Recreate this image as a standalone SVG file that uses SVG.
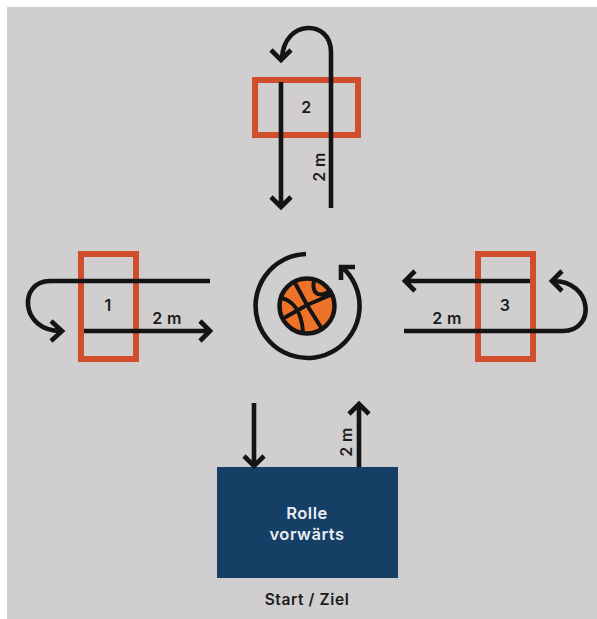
<svg xmlns="http://www.w3.org/2000/svg" width="597" height="619" viewBox="0 0 597 619">
<style>
.box{fill:none;stroke:#d14e2c;stroke-width:6}
.ln{fill:none;stroke:#141414;stroke-width:4.6;stroke-linecap:butt;stroke-linejoin:miter}
.t{font-family:Inter,"Liberation Sans",sans-serif;font-size:16px;font-weight:600;fill:#1c1c1c;text-anchor:middle;letter-spacing:.4px}
.w{fill:#e8edf2;font-size:16.5px;font-weight:600;letter-spacing:.5px}
.s{font-size:15.5px;font-weight:600;letter-spacing:.6px}
.seam{fill:none;stroke:#141414;stroke-width:4}
</style>
<rect width="597" height="619" fill="#fff"/>
<rect x="7" y="7" width="590" height="612" fill="#d0cecf"/>
<g id="station-2">
<rect class="box" x="255" y="80" width="103" height="55"/>
<text class="t" x="306.5" y="113">2</text>
</g>
<g id="station-1">
<rect class="box" x="81" y="254" width="55" height="105"/>
<text class="t" x="108" y="311">1</text>
</g>
<g id="station-3">
<rect class="box" x="478" y="254" width="55" height="105"/>
<text class="t" x="505" y="311">3</text>
</g>
<g id="start">
<rect x="217" y="467" width="181" height="111" fill="#163f66"/>
<text class="t w" x="307" y="519">Rolle</text>
<text class="t w" x="307" y="540">vorwärts</text>
<text class="t s" x="307" y="605">Start / Ziel</text>
</g>
<g id="ball">
<circle cx="307" cy="306" r="27.5" fill="#ee7328" stroke="#141414" stroke-width="4.5"/>
<path class="seam" d="M284 318L307 305L333 294M295 283L307 305L322 329M281 298C292 300 301 310 303 331M314 281C312 290 316 300 330 291"/>
</g>
<g id="connectors">
<path class="ln" d="M331 208V52C331 19 284 19 282 58M271 50L281 60L291 50"/>
<path class="ln" d="M281 82V206M271 197L281 207L291 197"/>
<path class="ln" d="M210 281H50C18 281 20 331 61 331M51 321L62 331L51 341"/>
<path class="ln" d="M84 331H209M200 321L210 331L200 341"/>
<path class="ln" d="M530 281H406M415 271L405 281L415 291"/>
<path class="ln" d="M404 331H563C596 331 593 281 553 281M562 271L552 281L562 291"/>
<path class="ln" d="M254 403V465M244 456L254 466L264 456"/>
<path class="ln" d="M359 467V406M349 414L359 404L369 414"/>
<path class="ln" d="M306 254A52 52 0 1 0 342 267M355 267H341V280"/>
</g>
<g id="labels">
<text class="t" x="167" y="324">2 m</text>
<text class="t" x="447" y="324">2 m</text>
<text class="t" transform="translate(325 167) rotate(-90)">2 m</text>
<text class="t" transform="translate(352 442) rotate(-90)">2 m</text>
</g>
</svg>
